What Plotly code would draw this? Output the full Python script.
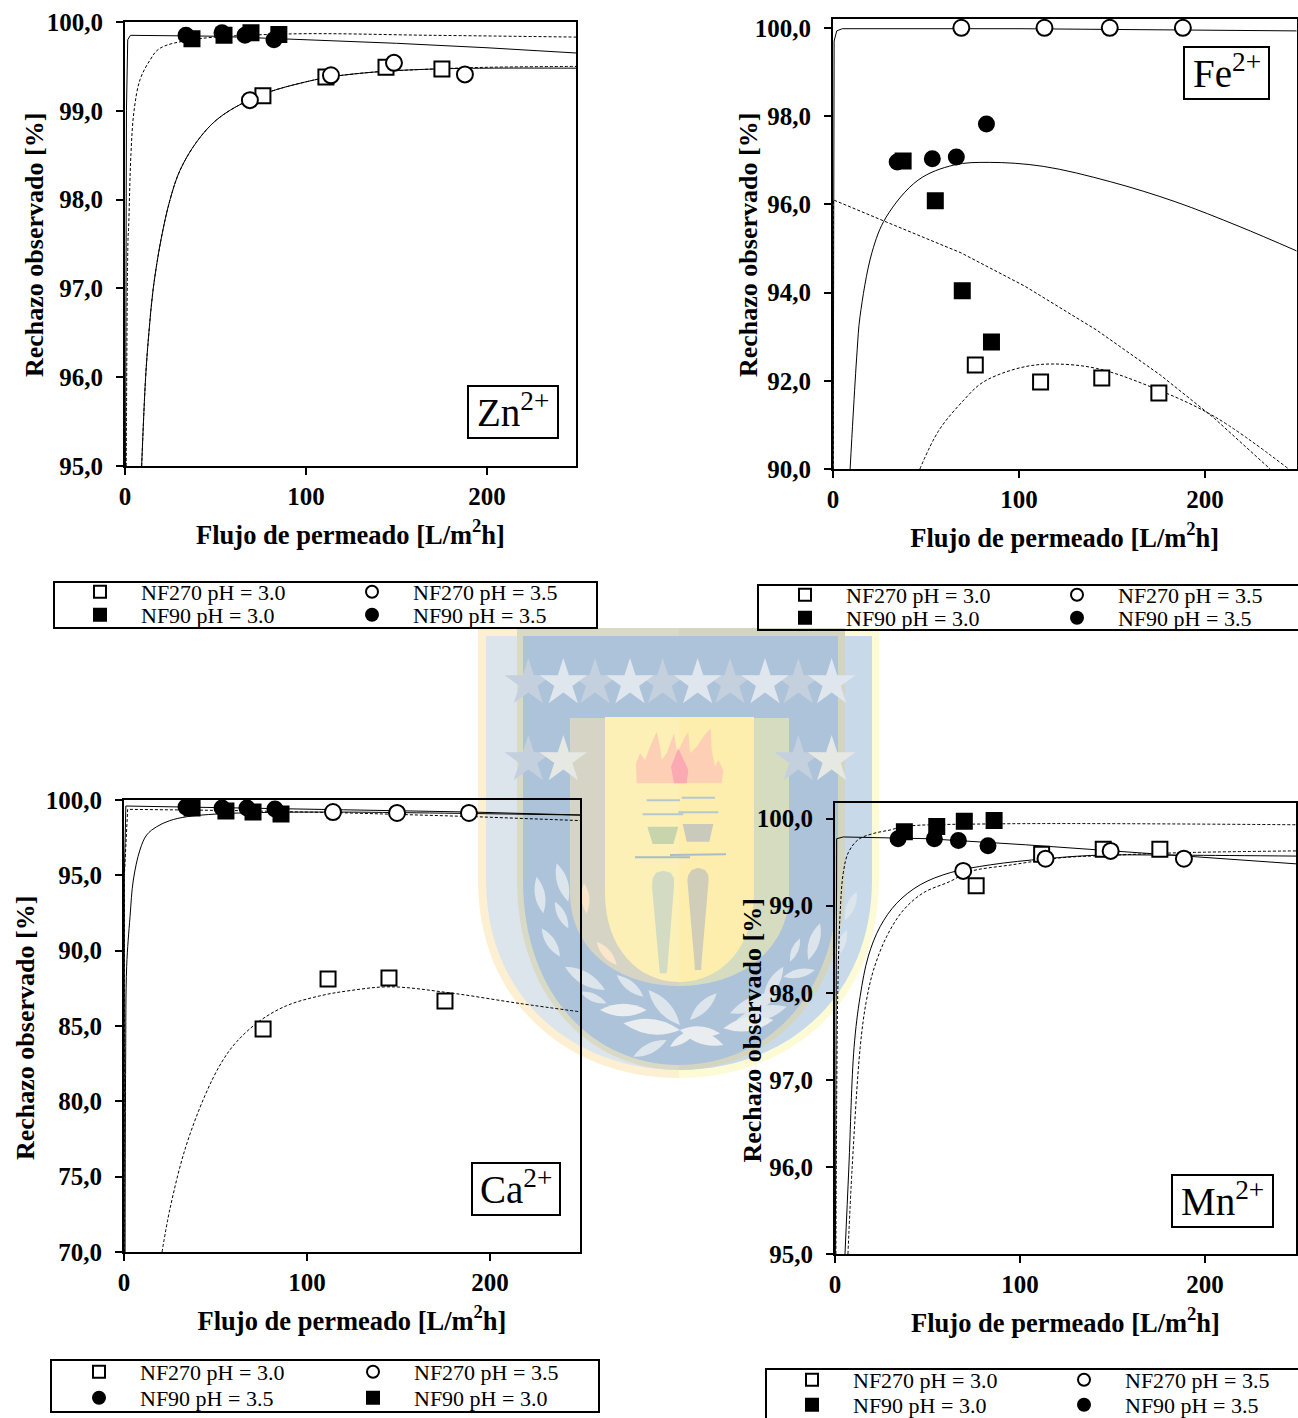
import math
import plotly.graph_objects as go

W, H = 1298, 1418
SERIF = "Liberation Serif"

FLUX_TICKS = [0, 100, 200]
ION_LABELS = ["Zn<sup>2+</sup>", "Fe<sup>2+</sup>", "Ca<sup>2+</sup>", "Mn<sup>2+</sup>"]
NAME_A = "NF270 pH = 3.0"
NAME_B = "NF270 pH = 3.5"
NAME_C = "NF90 pH = 3.0"
NAME_D = "NF90 pH = 3.5"
X_TITLE = "Flujo de permeado [L/m<sup>2</sup>h]"
Y_TITLE = "Rechazo observado [%]"

# ---- Zn ----
ZN_A_X = [76.2, 111, 144.2, 175.1]
ZN_A_Y = [99.17, 99.38, 99.49, 99.47]
ZN_B_X = [69, 113.8, 148.6, 187.8]
ZN_B_Y = [99.12, 99.40, 99.54, 99.41]
ZN_C_X = [37, 54.7, 69.6, 85]
ZN_C_Y = [99.81, 99.85, 99.88, 99.86]
ZN_D_X = [33.7, 53.6, 66.3, 82.3]
ZN_D_Y = [99.85, 99.88, 99.85, 99.80]
ZN_S1_X = [0.3, 0.5, 0.8, 1.5, 3, 50, 100, 150, 200, 250]
ZN_S1_Y = [95, 97, 99, 99.8, 99.85, 99.84, 99.8, 99.76, 99.71, 99.65]
ZN_S2_X = [9.2, 11.4, 13.2, 15.6, 19.9, 24.9, 30.4, 39.6, 50.7, 65.4, 80.1, 96.7, 113, 140, 170, 200, 250]
ZN_S2_Y = [95, 96, 96.5, 97, 97.55, 98.0, 98.33, 98.65, 98.90, 99.09, 99.215, 99.31, 99.38, 99.44, 99.47, 99.48, 99.48]
ZN_D1_X = [0.7, 1.66, 2, 3.3, 5, 8.3, 13.8, 19, 37, 90, 170, 250]
ZN_D1_Y = [95, 97.55, 97.69, 98.52, 99.0, 99.35, 99.57, 99.7, 99.8, 99.865, 99.85, 99.83]
ZN_D2_X = [9.2, 11.4, 13.2, 15.6, 19.9, 24.9, 30.4, 39.6, 50.7, 65.4, 80.1, 96.7, 113, 140, 170, 200, 250]
ZN_D2_Y = [95, 96, 96.5, 97, 97.55, 98.0, 98.33, 98.65, 98.90, 99.09, 99.215, 99.31, 99.38, 99.44, 99.47, 99.49, 99.5]

# ---- Fe ----
FE_A_X = [76.5, 111.6, 144.5, 175.2]
FE_A_Y = [92.36, 91.97, 92.06, 91.72]
FE_B_X = [69, 113.7, 148.8, 188.1]
FE_B_Y = [100, 100, 100, 100]
FE_C_X = [37.7, 55, 69.5, 85.2]
FE_C_Y = [96.98, 96.08, 94.04, 92.88]
FE_D_X = [34.5, 53.4, 66.3, 82.5]
FE_D_Y = [96.96, 97.03, 97.07, 97.82]
FE_S1_X = [0.1, 0.3, 0.6, 2, 5, 100, 250]
FE_S1_Y = [90, 98, 99.7, 99.93, 99.98, 99.98, 99.93]
FE_S2_X = [9.2, 10.8, 13, 14.5, 20.9, 28.6, 45.8, 65, 84, 113, 149.3, 183.9, 218.3, 250]
FE_S2_Y = [90, 91.2, 92.7, 93.45, 94.9, 95.71, 96.55, 96.89, 96.95, 96.86, 96.51, 96.06, 95.5, 94.93]
FE_D1_X = [0.1, 0.2, 28.6, 68.8, 103.3, 141.7, 176, 205, 235]
FE_D1_Y = [90, 96.1, 95.6, 94.9, 94.14, 93.15, 92.13, 91.15, 90.0]
FE_D2_X = [46.7, 57, 70.7, 79, 87.9, 103.3, 118.6, 141.7, 170.4, 205, 245]
FE_D2_Y = [90, 90.88, 91.58, 91.92, 92.12, 92.32, 92.38, 92.28, 91.87, 91.19, 90.0]

# ---- Ca ----
CA_A_X = [76, 111.5, 144.8, 175.4]
CA_A_Y = [84.8, 88.12, 88.19, 86.66]
CA_B_X = [114.2, 149.2, 188.5]
CA_B_Y = [99.2, 99.14, 99.14]
CA_C_X = [37.2, 55.7, 70.5, 85.8]
CA_C_Y = [99.47, 99.27, 99.2, 99.07]
CA_D_X = [33.9, 53.6, 67.2, 82.5]
CA_D_Y = [99.54, 99.47, 99.47, 99.4]
CA_S1_X = [0.1, 0.2, 1, 60, 120, 190, 250]
CA_S1_Y = [70, 95, 99.6, 99.5, 99.35, 99.2, 99.0]
CA_S2_X = [0.6, 0.9, 1.46, 3.3, 5.1, 8.7, 12.4, 17.9, 25, 34.3, 50.6, 70.5, 113, 160, 250]
CA_S2_Y = [70, 82.75, 88.94, 92.26, 94.69, 96.68, 97.68, 98.23, 98.63, 98.89, 99.07, 99.16, 99.2, 99.15, 99.0]
CA_D1_X = [0.1, 0.2, 2, 60, 120, 190, 250]
CA_D1_Y = [70, 95, 99.38, 99.3, 99.15, 98.9, 98.63]
CA_D2_X = [20.8, 25, 33.3, 44.3, 53.4, 61.6, 74.3, 88.9, 107, 123.5, 145.4, 178, 216, 250]
CA_D2_Y = [70, 72.8, 76.8, 80.4, 82.6, 83.96, 85.35, 86.35, 87.0, 87.35, 87.6, 87.2, 86.5, 85.93]

# ---- Mn ----
MN_A_X = [76.3, 111.7, 145, 175.6]
MN_A_Y = [99.23, 99.59, 99.65, 99.65]
MN_B_X = [69.3, 113.8, 149, 188.6]
MN_B_Y = [99.40, 99.54, 99.63, 99.54]
MN_C_X = [37.5, 55, 69.9, 86]
MN_C_Y = [99.85, 99.91, 99.97, 99.98]
MN_D_X = [34.1, 53.7, 66.7, 82.7]
MN_D_Y = [99.77, 99.77, 99.75, 99.69]
MN_S1_X = [0.2, 0.5, 0.9, 4.5, 50, 103, 142, 188.6, 250]
MN_S1_Y = [95, 98.5, 99.77, 99.79, 99.77, 99.70, 99.64, 99.57, 99.48]
MN_S2_X = [5.4, 7.5, 10.3, 13.6, 18, 24.4, 33.4, 46, 62.3, 84, 113.8, 142, 188, 250]
MN_S2_Y = [95, 96, 97.37, 97.96, 98.42, 98.76, 99.03, 99.24, 99.38, 99.47, 99.54, 99.58, 99.58, 99.57]
MN_D1_X = [0.5, 1, 1.5, 2.7, 4.5, 7.2, 12.6, 20.8, 29.8, 37.4, 84, 250]
MN_D1_Y = [95, 97, 98, 98.88, 99.38, 99.61, 99.76, 99.83, 99.87, 99.91, 99.94, 99.93]
MN_D2_X = [7, 9.3, 13.6, 16.8, 20.8, 28, 37, 47.9, 62.3, 72.4, 95.6, 122, 149.6, 188.6, 250]
MN_D2_Y = [95, 96, 97.37, 97.89, 98.26, 98.65, 98.95, 99.15, 99.28, 99.39, 99.47, 99.55, 99.58, 99.61, 99.63]


def px(x):
    return x / W


def py(y):
    return 1 - y / H


def poly(points, fill, line=None, width=0):
    d = "M " + " L ".join(f"{px(x):.5f} {py(y):.5f}" for x, y in points) + " Z"
    return dict(type="path", xref="paper", yref="paper", path=d, fillcolor=fill,
                line=dict(color=line or fill, width=width), layer="below")


def half_shield(xc, xe, top, yc, bot, fill):
    p = lambda x, y: f"{px(x):.5f} {py(y):.5f}"
    d = (f"M {p(xc, top)} L {p(xe, top)} L {p(xe, yc)} "
         f"C {p(xe, yc + (bot - yc) * .62)} {p(xc + (xe - xc) * .55, bot)} {p(xc, bot)} Z")
    return dict(type="path", xref="paper", yref="paper", path=d, fillcolor=fill,
                line=dict(width=0), layer="below")


def star(cx, cy, r, fill):
    pts = []
    for i in range(10):
        a = -math.pi / 2 + i * math.pi / 5
        rr = r if i % 2 == 0 else r * 0.38
        pts.append((cx + rr * math.cos(a), cy + rr * math.sin(a)))
    return poly(pts, fill)


def leaf4(a, b, c, d, fill="#dde5ec", bulge=0.27):
    # crest art coordinates, relative to a 3x crop starting at page pixel (480, 860)
    x1, y1, x2, y2 = 480 + a / 3, 860 + b / 3, 480 + c / 3, 860 + d / 3
    mx, my = (x1 + x2) / 2, (y1 + y2) / 2
    dx, dy = x2 - x1, y2 - y1
    p = lambda x, y: f"{px(x):.5f} {py(y):.5f}"
    q1 = p(mx - dy * bulge, my + dx * bulge)
    q2 = p(mx + dy * bulge, my - dx * bulge)
    path = f"M {p(x1, y1)} Q {q1} {p(x2, y2)} Q {q2} {p(x1, y1)} Z"
    return dict(type="path", xref="paper", yref="paper", path=path, fillcolor=fill,
                line=dict(width=0), layer="below")


def zp(points):
    return [(470 + a / 3, 620 + b / 3) for a, b in points]


def zline(a, b, c, d, color, width=2):
    x1, y1, x2, y2 = 470 + a / 3, 620 + b / 3, 470 + c / 3, 620 + d / 3
    return dict(type="line", xref="paper", yref="paper", x0=px(x1), y0=py(y1), x1=px(x2), y1=py(y2),
                line=dict(color=color, width=width), layer="below")


CX = 679
shapes = [
    half_shield(CX, 478, 628, 880, 1078, "#fdf0d2"),
    half_shield(CX, 879, 628, 880, 1078, "#fdfbd6"),
    half_shield(CX, 486, 636, 880, 1070, "#dce4ec"),
    half_shield(CX, 872, 636, 880, 1070, "#c8daea"),
    half_shield(CX, 517, 628, 880, 1070, "#d9dac6"),
    half_shield(CX, 845, 628, 880, 1070, "#d3d5c0"),
    half_shield(CX, 523, 636, 880, 1065, "#adc3da"),
    half_shield(CX, 838, 636, 880, 1065, "#adc3da"),
    half_shield(CX, 570, 718, 893, 986, "#d6d5c5"),
    half_shield(CX, 789, 718, 893, 986, "#d5dcc0"),
    half_shield(CX, 605, 717, 893, 982, "#fdf0b6"),
    half_shield(CX, 754, 717, 893, 982, "#fdeeae"),
]
for sx in (175, 375, 578, 780, 985):
    shapes.append(star(470 + sx / 3, 683, 25, "#c4d0de"))
for sx in (280, 480, 683, 885, 1085):
    shapes.append(star(470 + sx / 3, 683, 25, "#dfe6ee"))
for sx in (175, 985):
    shapes.append(star(470 + sx / 3, 760, 25, "#c4d0de"))
for sx in (280, 1085):
    shapes.append(star(470 + sx / 3, 760, 25, "#e6e8e4"))
shapes += [
    poly(zp([(500, 490), (498, 430), (510, 400), (525, 420), (540, 380), (560, 335), (570, 380), (575, 420),
             (590, 400), (612, 340), (622, 400), (640, 360), (655, 335), (660, 400), (680, 380), (700, 350),
             (722, 325), (725, 390), (735, 440), (745, 420), (760, 450), (755, 490)]), "#fdcfb4"),
    poly(zp([(612, 490), (603, 440), (625, 385), (655, 450), (650, 490)]), "#fba9b2"),
    zline(530, 541, 630, 541, "#b7c8cb"), zline(635, 533, 735, 533, "#b7c8cb"),
    zline(518, 583, 640, 583, "#b7c8cb"), zline(625, 577, 745, 577, "#b7c8cb"),
    poly(zp([(532, 620), (625, 620), (610, 672), (548, 672)]), "#c7d4ac"),
    poly(zp([(638, 612), (730, 612), (718, 665), (650, 665)]), "#c9cabb"),
    zline(495, 712, 660, 712, "#aabdc4"), zline(600, 705, 768, 703, "#aabdc4"),
    poly(zp([(546, 800), (548, 775), (558, 758), (580, 752), (602, 758), (612, 775), (612, 800), (592, 1045),
             (590, 1060), (570, 1060), (568, 1045)]), "#d3dcc2"),
    poly(zp([(652, 780), (655, 765), (665, 750), (685, 743), (705, 750), (715, 765), (716, 780), (694, 1035),
             (694, 1050), (674, 1050), (674, 1035)]), "#d0cdb9"),
]
for a, b, c, d in [(65, 60, 95, 170), (170, 50, 190, 160), (230, 10, 265, 125), (225, 125, 265, 205),
                   (185, 205, 240, 290), (75, 220, 150, 300), (255, 320, 375, 390), (410, 345, 490, 410),
                   (300, 395, 380, 430), (505, 390, 600, 495), (630, 480, 710, 400), (460, 590, 560, 540),
                   (1130, 95, 1095, 180), (1020, 190, 985, 300), (960, 235, 930, 305), (1100, 210, 1070, 290),
                   (910, 320, 850, 420), (1005, 330, 910, 350), (900, 400, 750, 460), (920, 440, 770, 480)]:
    shapes.append(leaf4(a, b, c, d))
for a, b, c, d in [(360, 450, 500, 450), (430, 490, 600, 510), (600, 510, 730, 555), (570, 560, 650, 510),
                   (730, 505, 880, 480), (720, 520, 600, 510)]:
    shapes.append(leaf4(a, b, c, d, "#eaedf0"))
shapes += [leaf4(350, 245, 410, 315, "#fbe6cc"), leaf4(312, 70, 320, 160, "#fbe6cc")]

# fit style: (dashed?, spline?)
PANELS = [
    dict(box=(125, 577.5, 22, 466), yr=[95, 100], dt=1,
         A=(ZN_A_X, ZN_A_Y), B=(ZN_B_X, ZN_B_Y), C=(ZN_C_X, ZN_C_Y), D=(ZN_D_X, ZN_D_Y),
         fits=[(ZN_S1_X, ZN_S1_Y, 0, 0), (ZN_S2_X, ZN_S2_Y, 0, 1), (ZN_D1_X, ZN_D1_Y, 1, 1), (ZN_D2_X, ZN_D2_Y, 1, 1)],
         ion=(468, 386, 90, 52), ytx=34, leg=(54, 597, 582, 628), lx=(59, 331), ly=(592, 615),
         order=("A", "B", "C", "D")),
    dict(box=(833, 1298, 19, 469), yr=[90, 100.2], dt=2,
         A=(FE_A_X, FE_A_Y), B=(FE_B_X, FE_B_Y), C=(FE_C_X, FE_C_Y), D=(FE_D_X, FE_D_Y),
         fits=[(FE_S1_X, FE_S1_Y, 0, 0), (FE_S2_X, FE_S2_Y, 0, 1), (FE_D1_X, FE_D1_Y, 1, 0), (FE_D2_X, FE_D2_Y, 1, 1)],
         ion=(1184, 47, 85, 52), ytx=748, leg=(758, 1302, 585, 630), lx=(764, 1036), ly=(595, 618),
         order=("A", "B", "C", "D")),
    dict(box=(124, 581.5, 800, 1252), yr=[70, 100], dt=5,
         A=(CA_A_X, CA_A_Y), B=(CA_B_X, CA_B_Y), C=(CA_C_X, CA_C_Y), D=(CA_D_X, CA_D_Y),
         fits=[(CA_S1_X, CA_S1_Y, 0, 0), (CA_S2_X, CA_S2_Y, 0, 1), (CA_D1_X, CA_D1_Y, 1, 0), (CA_D2_X, CA_D2_Y, 1, 1)],
         ion=(472, 1163, 88, 52), ytx=25, leg=(51, 599, 1360, 1412), lx=(58, 332), ly=(1372, 1398),
         order=("A", "B", "D", "C")),
    dict(box=(835, 1297.5, 803, 1254), yr=[95, 100.18], dt=1,
         A=(MN_A_X, MN_A_Y), B=(MN_B_X, MN_B_Y), C=(MN_C_X, MN_C_Y), D=(MN_D_X, MN_D_Y),
         fits=[(MN_S1_X, MN_S1_Y, 0, 0), (MN_S2_X, MN_S2_Y, 0, 1), (MN_D1_X, MN_D1_Y, 1, 1), (MN_D2_X, MN_D2_Y, 1, 1)],
         ion=(1172, 1175, 101, 52), ytx=752, leg=(766, 1302, 1369, 1425), lx=(771, 1043), ly=(1380, 1405),
         order=("A", "B", "C", "D")),
]

STYLE = {
    "A": dict(name=NAME_A, symbol="square", fill="white", size=15),
    "B": dict(name=NAME_B, symbol="circle", fill="white", size=16),
    "C": dict(name=NAME_C, symbol="square", fill="black", size=15),
    "D": dict(name=NAME_D, symbol="circle", fill="black", size=15),
}

fig = go.Figure()
layout = dict(width=W, height=H, margin=dict(l=0, r=0, t=0, b=0, autoexpand=False),
              paper_bgcolor="white", plot_bgcolor="rgba(0,0,0,0)", separators=",.",
              font=dict(family=SERIF, color="black"), showlegend=True)
annotations = []
leg_id = 0

for i, p in enumerate(PANELS):
    n = i + 1
    xa = "xaxis" if n == 1 else f"xaxis{n}"
    ya = "yaxis" if n == 1 else f"yaxis{n}"
    xr = "x" if n == 1 else f"x{n}"
    yr = "y" if n == 1 else f"y{n}"
    l, r, t, b = p["box"]
    rr = r - 1.5
    xmax = 250 * (rr - l) / (r - l)
    common = dict(showline=True, linecolor="black", linewidth=2, mirror=True, showgrid=False, zeroline=False,
                  ticks="outside", ticklen=7, tickwidth=2, tickcolor="black",
                  tickfont=dict(family=SERIF, size=25, color="black", weight="bold"))
    layout[xa] = dict(domain=[px(l), px(rr)], range=[0, xmax], anchor=yr, tickvals=FLUX_TICKS, ticklabelstandoff=0,
                      title=dict(text=X_TITLE, standoff=16,
                                 font=dict(family=SERIF, size=26.5, color="black", weight="bold")), **common)
    layout[ya] = dict(domain=[py(b), py(t)], range=p["yr"], anchor=xr, dtick=p["dt"], tick0=100, tickformat=".1f",
                      ticklabelstandoff=8, **common)

    annotations.append(dict(text=Y_TITLE, xref="paper", yref="paper", x=px(p["ytx"]), y=py((t + b) / 2 + (1 if i < 2 else 2)),
                            xanchor="center", yanchor="middle", textangle=-90, showarrow=False,
                            font=dict(family=SERIF, size=26, color="black", weight="bold")))

    for fx, fy, dashed, curved in p["fits"]:
        line = dict(color="black", width=1, dash="3px,2px" if dashed else "solid")
        if curved:
            line.update(shape="spline", smoothing=1.0)
        fig.add_trace(go.Scatter(x=fx, y=fy, mode="lines", xaxis=xr, yaxis=yr, showlegend=False, hoverinfo="skip",
                                 line=line))

    # legend frame
    lx0, lx1, ly0, ly1 = p["leg"]
    shapes.append(dict(type="rect", xref="paper", yref="paper", x0=px(lx0), x1=px(lx1), y0=py(ly0), y1=py(ly1),
                       line=dict(color="black", width=2), fillcolor="rgba(0,0,0,0)", layer="above"))

    slots = [(p["lx"][0], p["ly"][0]), (p["lx"][1], p["ly"][0]), (p["lx"][0], p["ly"][1]), (p["lx"][1], p["ly"][1])]
    for key, (sx, sy) in zip(p["order"], slots):
        s = STYLE[key]
        leg_id += 1
        lname = "legend" if leg_id == 1 else f"legend{leg_id}"
        layout[lname] = dict(x=px(sx), y=py(sy), xanchor="left", yanchor="middle", bgcolor="rgba(0,0,0,0)",
                             borderwidth=0, itemwidth=72, itemsizing="constant", traceorder="normal",
                             font=dict(family=SERIF, size=22, color="black"))
        mx, my = p[key]
        fig.add_trace(go.Scatter(x=mx, y=my, mode="markers", name=s["name"], xaxis=xr, yaxis=yr, legend=lname,
                                 cliponaxis=False,
                                 marker=dict(symbol=s["symbol"], size=s["size"], color=s["fill"],
                                             line=dict(color="black", width=2))))

    ix, iy, iw, ih = p["ion"]
    shapes.append(dict(type="rect", xref="paper", yref="paper", x0=px(ix), x1=px(ix + iw), y0=py(iy), y1=py(iy + ih),
                       line=dict(color="black", width=2), fillcolor="white", layer="above"))
    annotations.append(dict(text=ION_LABELS[i], xref="paper", yref="paper", x=px(ix + iw / 2), y=py(iy + ih / 2 - 2),
                            xanchor="center", yanchor="middle", showarrow=False,
                            font=dict(family=SERIF, size=39, color="black")))

layout["shapes"] = shapes
layout["annotations"] = annotations
fig.update_layout(**layout)
fig.write_html("out.html", config={"displayModeBar": False},
               post_script="document.body.style.margin='0';document.body.style.overflow='hidden';")
